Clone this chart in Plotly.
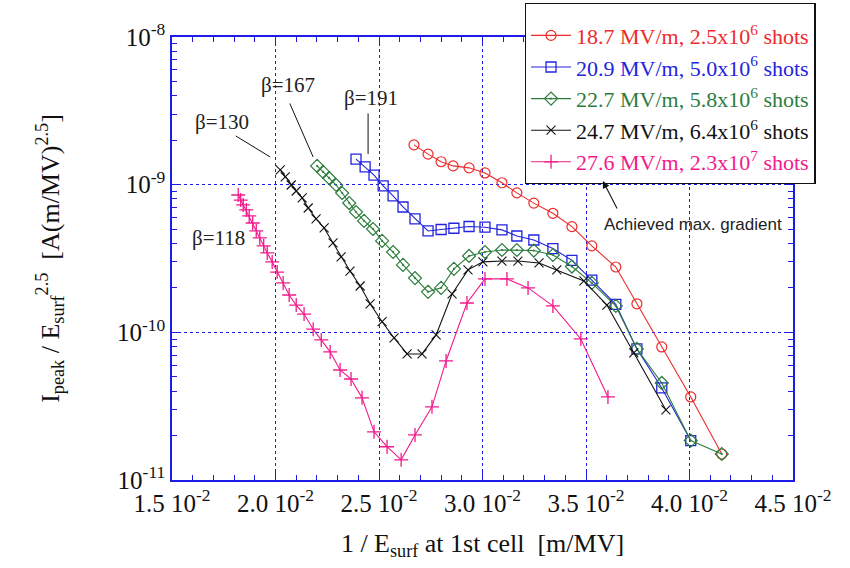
import plotly.graph_objects as go

# ---------------- data ----------------
red_x = [0.02669, 0.02737, 0.02800, 0.02858, 0.02935, 0.03012, 0.03094, 0.03166, 0.03248,
         0.03340, 0.03432, 0.03528, 0.03644, 0.03746, 0.03866, 0.04006, 0.04156]
red_y = [1.86e-9, 1.61e-9, 1.43e-9, 1.34e-9, 1.30e-9, 1.20e-9, 1.03e-9, 8.8e-10, 7.5e-10,
         6.4e-10, 5.2e-10, 3.85e-10, 2.77e-10, 1.56e-10, 7.96e-11, 3.65e-11, 1.50e-11]

blue_x = [0.02389, 0.02433, 0.02476, 0.02520, 0.02568, 0.02616, 0.02674, 0.02737, 0.02800,
          0.02862, 0.02935, 0.03012, 0.03094, 0.03166, 0.03248, 0.03340, 0.03432, 0.03528,
          0.03644, 0.03746, 0.03866, 0.04006]
blue_y = [1.49e-9, 1.32e-9, 1.16e-9, 9.8e-10, 8.4e-10, 7.06e-10, 5.86e-10, 4.86e-10, 4.97e-10,
          5.07e-10, 5.21e-10, 5.15e-10, 4.94e-10, 4.49e-10, 4.22e-10, 3.69e-10, 3.07e-10, 2.26e-10,
          1.545e-10, 7.72e-11, 4.20e-11, 1.85e-11]

green_x = [0.02201, 0.02230, 0.02259, 0.02293, 0.02322, 0.02356, 0.02389, 0.02428, 0.02471,
           0.02515, 0.02568, 0.02616, 0.02674, 0.02737, 0.02800, 0.02862, 0.02935, 0.03012,
           0.03094, 0.03166, 0.03248, 0.03340, 0.03432, 0.03528, 0.03644, 0.03746, 0.03866,
           0.04006, 0.04156]
green_y = [1.34e-9, 1.22e-9, 1.11e-9, 9.95e-10, 8.78e-10, 7.51e-10, 6.53e-10, 5.68e-10, 5.01e-10,
           4.16e-10, 3.50e-10, 2.86e-10, 2.33e-10, 1.88e-10, 2.00e-10, 2.69e-10, 3.29e-10, 3.50e-10,
           3.61e-10, 3.61e-10, 3.58e-10, 3.34e-10, 2.79e-10, 2.16e-10, 1.51e-10, 7.72e-11, 4.54e-11,
           1.85e-11, 1.50e-11]

black_x = [0.02023, 0.02047, 0.02076, 0.02100, 0.02129, 0.02158, 0.02196, 0.02235, 0.02278,
           0.02317, 0.02360, 0.02409, 0.02457, 0.02515, 0.02573, 0.02636, 0.02708, 0.02776,
           0.02853, 0.02930, 0.03002, 0.03094, 0.03171, 0.03273, 0.03359, 0.03490, 0.03601,
           0.03731, 0.03886]
black_y = [1.26e-9, 1.13e-9, 9.95e-10, 9.06e-10, 8.13e-10, 6.95e-10, 5.86e-10, 5.09e-10, 4.03e-10,
           3.24e-10, 2.60e-10, 2.06e-10, 1.56e-10, 1.18e-10, 9.16e-11, 7.14e-11, 7.14e-11, 9.60e-11,
           1.82e-10, 2.65e-10, 3.00e-10, 3.04e-10, 3.04e-10, 2.95e-10, 2.65e-10, 2.23e-10, 1.53e-10,
           7.25e-11, 2.98e-11]

pink_x = [0.01820, 0.01832, 0.01844, 0.01859, 0.01873, 0.01890, 0.01907, 0.01924, 0.01943,
          0.01960, 0.01984, 0.02008, 0.02037, 0.02066, 0.02100, 0.02138, 0.02182, 0.02221,
          0.02264, 0.02312, 0.02365, 0.02418, 0.02476, 0.02539, 0.02607, 0.02674, 0.02756,
          0.02824, 0.02925, 0.03012, 0.03118, 0.03220, 0.03340, 0.03475, 0.03606]
pink_y = [8.51e-10, 7.87e-10, 7.29e-10, 6.74e-10, 6.14e-10, 5.50e-10, 4.86e-10, 4.36e-10, 3.85e-10,
          3.45e-10, 3.00e-10, 2.56e-10, 2.16e-10, 1.79e-10, 1.53e-10, 1.33e-10, 1.05e-10, 8.88e-11,
          7.37e-11, 5.56e-11, 4.83e-11, 3.60e-11, 2.12e-11, 1.68e-11, 1.37e-11, 2.02e-11, 3.13e-11,
          6.40e-11, 1.58e-10, 2.30e-10, 2.30e-10, 2.00e-10, 1.51e-10, 9.02e-11, 3.65e-11]

series_names = ["18.7 MV/m, 2.5x10<sup>6</sup> shots",
                "20.9 MV/m, 5.0x10<sup>6</sup> shots",
                "22.7 MV/m, 5.8x10<sup>6</sup> shots",
                "24.7 MV/m, 6.4x10<sup>6</sup> shots",
                "27.6 MV/m, 2.3x10<sup>7</sup> shots"]

x_tick_vals = [0.015, 0.020, 0.025, 0.030, 0.035, 0.040, 0.045]
x_tick_text = ["1.5 10<sup>-2</sup>", "2.0 10<sup>-2</sup>", "2.5 10<sup>-2</sup>",
               "3.0 10<sup>-2</sup>", "3.5 10<sup>-2</sup>", "4.0 10<sup>-2</sup>",
               "4.5 10<sup>-2</sup>"]
y_tick_vals = [1e-11, 1e-10, 1e-9, 1e-8]
y_tick_text = ["10<sup>-11</sup>", "10<sup>-10</sup>", "10<sup>-9</sup>", "10<sup>-8</sup>"]

beta_labels = ["β=130", "β=167", "β=191", "β=118"]

# ---------------- styling ----------------
SERIF = "Liberation Serif, Times New Roman, serif"
AXIS_BLUE = "#1c1ce6"
colors = ["#ee2a2a", "#2323e0", "#2e7d3e", "#111111", "#f21a8c"]
symbols = ["circle-open", "square-open", "diamond-open-dot", "x-thin-open", "cross-thin-open"]
msizes = [10, 10, 10, 9, 10]
mwidths = [1.2, 1.3, 1.2, 1.1, 1.3]

fig = go.Figure()
data = [(red_x, red_y), (blue_x, blue_y), (green_x, green_y), (black_x, black_y), (pink_x, pink_y)]
for (xs, ys), name, col, sym, ms, mw in zip(data, series_names, colors, symbols, msizes, mwidths):
    fig.add_trace(go.Scatter(
        x=xs, y=ys, mode="lines+markers",
        name=f"<span style='color:{col}'>{name}</span>",
        line=dict(color=col, width=1.1),
        marker=dict(symbol=sym, size=ms, color=col, line=dict(color=col, width=mw)),
    ))

# minor ticks
x_minor = [round(0.015 + 0.001 * i, 4) for i in range(31)]
y_minor = [m * 10 ** e for e in range(-11, -8) for m in range(2, 10)]

fig.update_xaxes(
    range=[0.015, 0.045], tickmode="array", tickvals=x_tick_vals, ticktext=x_tick_text,
    showline=True, linecolor=AXIS_BLUE, linewidth=1.5, mirror="ticks",
    ticks="inside", ticklen=8, tickcolor=AXIS_BLUE, tickwidth=1.2,
    showgrid=True, gridcolor=AXIS_BLUE, griddash="dot", gridwidth=1,
    zeroline=False,
    minor=dict(tickmode="array", tickvals=x_minor, ticks="inside", ticklen=5,
               tickcolor=AXIS_BLUE, tickwidth=1, showgrid=False),
    tickfont=dict(family=SERIF, size=25, color="#111"),
    title=dict(text="1 / E<sub>surf</sub> at 1st cell  [m/MV]",
               font=dict(family=SERIF, size=26, color="#111"), standoff=18),
)
fig.update_yaxes(
    type="log", range=[-11, -8], tickmode="array", tickvals=y_tick_vals, ticktext=y_tick_text,
    showline=True, linecolor=AXIS_BLUE, linewidth=1.5, mirror="ticks",
    ticks="inside", ticklen=8, tickcolor=AXIS_BLUE, tickwidth=1.2,
    showgrid=True, gridcolor=AXIS_BLUE, griddash="dot", gridwidth=1,
    zeroline=False,
    minor=dict(tickmode="array", tickvals=y_minor, ticks="inside", ticklen=5,
               tickcolor=AXIS_BLUE, tickwidth=1, showgrid=False),
    tickfont=dict(family=SERIF, size=25, color="#111"),
    title=dict(text="I<sub>peak</sub> / E<sub>surf</sub><sup>2.5</sup>  [A(m/MV)<sup>2.5</sup>]",
               font=dict(family=SERIF, size=26, color="#111"), standoff=50),
)

# beta labels (text) and their leader lines
beta_text_pos = [(0.017428, -8.5755), (0.020613, -8.325), (0.024618, -8.413), (0.017234, -9.361)]
for label, (bx, by) in zip(beta_labels, beta_text_pos):
    fig.add_annotation(x=bx, y=by, text=label, showarrow=False,
                       font=dict(family=SERIF, size=21, color="#222"))

leaders = [(0.019744, -8.8125, -36, -22), (0.021819, -8.8125, -24, -55), (0.024473, -8.7921, 0, -42)]
for hx, hy, axp, ayp in leaders:
    fig.add_annotation(x=hx, y=hy, text="", showarrow=True, arrowhead=0, arrowwidth=1,
                       arrowcolor="#111", ax=axp, ay=ayp)

fig.add_annotation(x=0.040158, y=-9.2729, text="Achieved max. gradient", showarrow=False,
                   font=dict(family="Liberation Sans, Arial, sans-serif", size=17, color="#222"))
fig.add_annotation(x=0.035814, y=-8.975, text="", showarrow=True, arrowhead=2, arrowsize=1.3,
                   arrowwidth=1.1, arrowcolor="#111", ax=15, ay=29)

fig.update_layout(
    width=850, height=568, autosize=False,
    margin=dict(l=172, r=57, t=37, b=88, autoexpand=False),
    paper_bgcolor="white", plot_bgcolor="white",
    showlegend=True,
    legend=dict(x=0.568, y=1.077, xanchor="left", yanchor="top",
                bgcolor="white", bordercolor="#111", borderwidth=1.3,
                font=dict(family=SERIF, size=22), itemwidth=40,
                tracegroupgap=0,
                title=dict(text=" ", font=dict(family=SERIF, size=8))),
)

fig.write_html("out.html")
